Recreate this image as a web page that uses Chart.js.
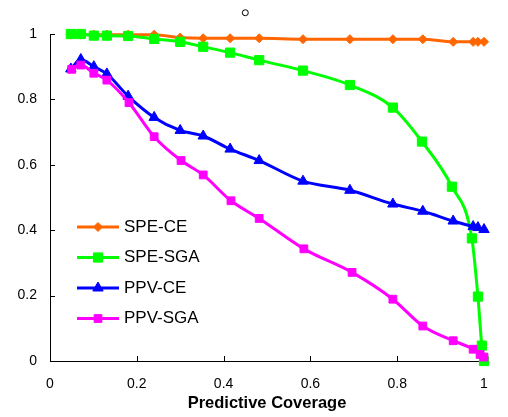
<!DOCTYPE html>
<html>
<head>
<meta charset="utf-8">
<script src="https://cdn.jsdelivr.net/npm/chart.js@4"></script>
<style>
html, body { margin: 0; padding: 0; background: #fff; }
</style>
</head>
<body>
<canvas id="coverageChart" width="508" height="417"></canvas>
<script>
// series names
var seriesNames = ['SPE-CE', 'SPE-SGA', 'PPV-CE', 'PPV-SGA'];

// predictive coverage (x) for each series
var ceX = [0.048, 0.071, 0.101, 0.131, 0.180, 0.240, 0.300, 0.353, 0.415, 0.482, 0.583, 0.691, 0.790, 0.859, 0.929, 0.975, 0.986, 1.0];
var speSgaX = [0.048, 0.071, 0.101, 0.131, 0.180, 0.240, 0.300, 0.353, 0.415, 0.482, 0.583, 0.691, 0.790, 0.857, 0.926, 0.972, 0.986, 0.995, 1.0];
var ppvSgaX = [0.050, 0.071, 0.101, 0.131, 0.182, 0.240, 0.302, 0.353, 0.417, 0.482, 0.585, 0.696, 0.790, 0.859, 0.929, 0.975, 0.991, 1.0];

// values
var speCeY = [0.998, 0.998, 0.998, 0.998, 0.998, 0.998, 0.989, 0.987, 0.987, 0.987, 0.984, 0.984, 0.984, 0.984, 0.976, 0.976, 0.976, 0.976];
var speSgaY = [1.0, 1.0, 0.995, 0.995, 0.994, 0.985, 0.976, 0.961, 0.943, 0.920, 0.888, 0.844, 0.775, 0.671, 0.533, 0.375, 0.197, 0.047, 0.0];
var ppvCeY = [0.893, 0.922, 0.900, 0.878, 0.810, 0.745, 0.705, 0.688, 0.648, 0.613, 0.550, 0.522, 0.480, 0.458, 0.428, 0.411, 0.408, 0.402];
var ppvSgaY = [0.892, 0.905, 0.880, 0.859, 0.790, 0.686, 0.613, 0.569, 0.490, 0.436, 0.343, 0.271, 0.189, 0.107, 0.062, 0.036, 0.020, 0.012];

// stray empty marker above the plot
var strayX = [0.450];
var strayY = [1.065];

// tick labels
var xTicks = [0, 0.2, 0.4, 0.6, 0.8, 1];
var yTicks = [0, 0.2, 0.4, 0.6, 0.8, 1];

var colors = ['#FF6600', '#00FF00', '#0000FF', '#FF00FF'];
var font = 'Arial, "Liberation Sans", sans-serif';

function pts(xs, ys) {
	return xs.map(function(x, i) { return { x: x, y: ys[i] }; });
}

function series(i, xs, ys, style, radius, order) {
	return {
		label: seriesNames[i],
		data: pts(xs, ys),
		borderColor: colors[i],
		backgroundColor: colors[i],
		pointBackgroundColor: colors[i],
		pointBorderColor: colors[i],
		pointBorderWidth: 1,
		pointStyle: style,
		pointRadius: radius,
		borderWidth: 3,
		cubicInterpolationMode: 'monotone',
		clip: false,
		order: order
	};
}

// inward tick marks on both axes
var inwardTicks = {
	id: 'inwardTicks',
	beforeDatasetsDraw: function(chart) {
		var ctx = chart.ctx, xs = chart.scales.x, ys = chart.scales.y, a = chart.chartArea;
		ctx.save();
		ctx.strokeStyle = '#000';
		ctx.lineWidth = 1;
		ctx.beginPath();
		xs.ticks.forEach(function(t, i) {
			var px = Math.round(xs.getPixelForTick(i)) + 0.5;
			ctx.moveTo(px, a.bottom);
			ctx.lineTo(px, a.bottom - 5);
		});
		ys.ticks.forEach(function(t, i) {
			var py = Math.round(ys.getPixelForTick(i)) + 0.5;
			ctx.moveTo(a.left, py);
			ctx.lineTo(a.left + 5, py);
		});
		ctx.stroke();
		ctx.restore();
	}
};

// the little empty circle above the plot area (outside chartArea, so points would be culled)
var strayMarker = {
	id: 'strayMarker',
	afterDatasetsDraw: function(chart) {
		var ctx = chart.ctx, xs = chart.scales.x, ys = chart.scales.y;
		ctx.save();
		ctx.strokeStyle = '#000';
		ctx.fillStyle = '#fff';
		ctx.lineWidth = 1;
		strayX.forEach(function(v, i) {
			ctx.beginPath();
			ctx.arc(xs.getPixelForValue(v), ys.getPixelForValue(strayY[i]), 3, 0, Math.PI * 2);
			ctx.fill();
			ctx.stroke();
		});
		ctx.restore();
	}
};

// legend drawn inside the plot: line + marker + name
var lineLegend = {
	id: 'lineLegend',
	afterDraw: function(chart) {
		var ctx = chart.ctx;
		ctx.save();
		seriesNames.forEach(function(name, i) {
			var ds = chart.data.datasets[i];
			var y = 227 + i * 30.5;
			ctx.strokeStyle = ds.borderColor;
			ctx.lineWidth = 3;
			ctx.beginPath();
			ctx.moveTo(77, y);
			ctx.lineTo(119, y);
			ctx.stroke();
			ctx.fillStyle = ds.borderColor;
			ctx.lineWidth = 1;
			Chart.helpers.drawPoint(ctx, { pointStyle: ds.pointStyle, radius: ds.pointRadius, borderWidth: 1, rotation: 0 }, 98, y);
			ctx.fillStyle = '#000';
			ctx.font = '17px ' + font;
			ctx.textBaseline = 'middle';
			ctx.textAlign = 'left';
			ctx.fillText(name, 124, y);
		});
		ctx.restore();
	}
};

var chart = new Chart(document.getElementById('coverageChart').getContext('2d'), {
	type: 'line',
	data: {
		datasets: [
			series(0, ceX, speCeY, 'rectRot', 4.5, 4),
			series(1, speSgaX, speSgaY, 'rect', 6.5, 3),
			series(2, ceX, ppvCeY, 'triangle', 6, 2),
			series(3, ppvSgaX, ppvSgaY, 'rect', 5.5, 1)
		]
	},
	options: {
		responsive: false,
		animation: false,
		devicePixelRatio: 1,
		layout: { padding: { top: 34, right: 24, left: 0, bottom: 0 } },
		plugins: {
			legend: { display: false },
			tooltip: { enabled: false }
		},
		scales: {
			x: {
				type: 'linear',
				min: 0,
				max: 1,
				afterBuildTicks: function(scale) {
					scale.ticks = xTicks.map(function(v) { return { value: v }; });
				},
				afterFit: function(scale) { scale.height = 56; },
				grid: { display: true, drawOnChartArea: false, drawTicks: false },
				border: { display: true, color: '#000', width: 1 },
				ticks: {
					color: '#000',
					padding: 15,
					maxRotation: 0,
					font: { family: font, size: 14 },
					callback: function(v) { return String(v); }
				},
				title: {
					display: true,
					text: 'Predictive Coverage',
					color: '#000',
					font: { family: font, size: 16.5, weight: 'bold' },
					padding: { top: 4, bottom: 4 }
				}
			},
			y: {
				type: 'linear',
				min: 0,
				max: 1,
				afterBuildTicks: function(scale) {
					scale.ticks = yTicks.map(function(v) { return { value: v }; });
				},
				afterFit: function(scale) { scale.width = 50; },
				grid: { display: true, drawOnChartArea: false, drawTicks: false },
				border: { display: true, color: '#000', width: 1 },
				ticks: {
					color: '#000',
					padding: 13,
					font: { family: font, size: 14 },
					callback: function(v) { return String(v); }
				}
			}
		}
	},
	plugins: [inwardTicks, strayMarker, lineLegend]
});
</script>
</body>
</html>
